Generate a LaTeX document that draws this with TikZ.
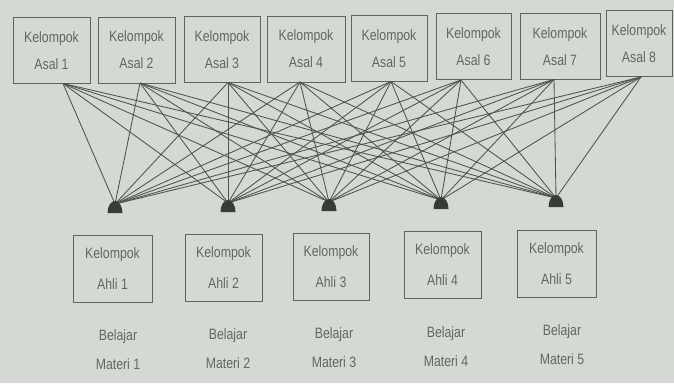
\documentclass[tikz,border=0pt]{standalone}
\usepackage{fontspec}
\usetikzlibrary{calc}
\newfontfamily\narrowsans[FakeStretch=0.82]{Liberation Sans}
\definecolor{paper}{HTML}{D4D9D3}
\definecolor{ink}{HTML}{4E544C}
\definecolor{boxline}{HTML}{5E635C}
\definecolor{label}{HTML}{62675F}
\definecolor{domefill}{HTML}{373D36}

\begin{document}
\begin{tikzpicture}[x=1pt,y=-1pt,
  groupbox/.style={draw=boxline, line width=0.9pt, fill=paper, text=label,
    align=center, inner sep=0pt, minimum height=66pt,
    font=\narrowsans\fontsize{15}{27}\selectfont},
  expertbox/.style={groupbox, minimum height=67pt,
    font=\narrowsans\fontsize{15}{31}\selectfont},
  link/.style={draw=ink, line width=0.85pt},
  dome/.style={fill=domefill},
  caption/.style={text=label, align=center, inner sep=0pt,
    font=\narrowsans\fontsize{15}{29}\selectfont}]

% page
\fill[paper] (0,0) rectangle (674,383);
\useasboundingbox (0,0) rectangle (674,383);

% home groups (Kelompok Asal)
\node[groupbox, minimum width=77pt] (a1) at (51.5,50.5) {Kelompok\\Asal 1};
\node[groupbox, minimum width=77pt] (a2) at (136.5,50)  {Kelompok\\Asal 2};
\node[groupbox, minimum width=76pt] (a3) at (222,49.5)  {Kelompok\\Asal 3};
\node[groupbox, minimum width=78pt] (a4) at (306,49)    {Kelompok\\Asal 4};
\node[groupbox, minimum width=76pt] (a5) at (389,48.5)  {Kelompok\\Asal 5};
\node[groupbox, minimum width=75pt] (a6) at (473.5,46.5){Kelompok\\Asal 6};
\node[groupbox, minimum width=80pt] (a7) at (560,46.5)  {Kelompok\\Asal 7};
\node[groupbox, minimum width=66pt] (a8) at (639,43.5)  {Kelompok\\Asal 8};

% points where the links leave each home group
\coordinate (o1) at (63,83.5);
\coordinate (o2) at (140,83);
\coordinate (o3) at (228,82.5);
\coordinate (o4) at (300,82);
\coordinate (o5) at (391,81.5);
\coordinate (o6) at (461,80);
\coordinate (o7) at (554,79.5);
\coordinate (o8) at (641,77);

% meeting points above the expert groups (centre of each dome's base)
\coordinate (d1) at (115,213);
\coordinate (d2) at (228,212);
\coordinate (d3) at (329,211);
\coordinate (d4) at (441,209);
\coordinate (d5) at (556,207);

% every home group sends a member to every expert group
\foreach \i in {1,...,8}{
  \foreach \j in {1,...,5}{
    \draw[link] (o\i) -- ($(d\j)+(0,-9)$);
  }
}
\foreach \j in {1,...,5}{
  \fill[dome] ($(d\j)+(-7.5,0)$) arc[start angle=180, end angle=0,
    x radius=7.5pt, y radius=12pt] -- cycle;
}

% expert groups (Kelompok Ahli)
\node[expertbox, minimum width=79pt] (h1) at (112.5,268.5) {Kelompok\\Ahli 1};
\node[expertbox, minimum width=77pt] (h2) at (223.5,267.5) {Kelompok\\Ahli 2};
\node[expertbox, minimum width=76pt] (h3) at (331,266.5)   {Kelompok\\Ahli 3};
\node[expertbox, minimum width=77pt] (h4) at (442.5,265)   {Kelompok\\Ahli 4};
\node[expertbox, minimum width=79pt] (h5) at (556.5,263.5) {Kelompok\\Ahli 5};

% material studied by each expert group
\node[caption] (m1) at (118,350) {Belajar\\Materi 1};
\node[caption] (m2) at (228,349) {Belajar\\Materi 2};
\node[caption] (m3) at (334,348) {Belajar\\Materi 3};
\node[caption] (m4) at (446,347) {Belajar\\Materi 4};
\node[caption] (m5) at (562,345) {Belajar\\Materi 5};
\end{tikzpicture}
\end{document}
